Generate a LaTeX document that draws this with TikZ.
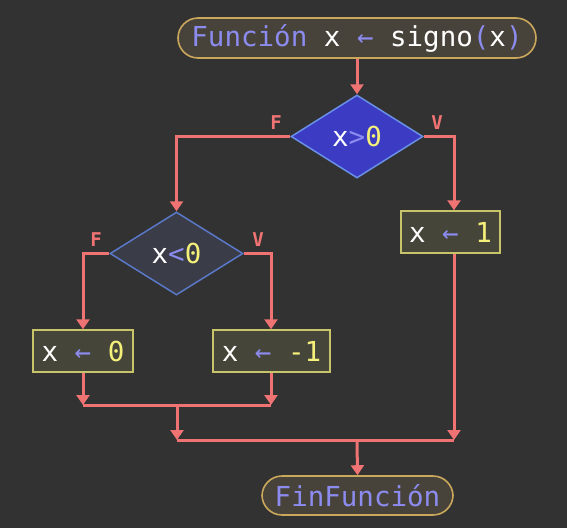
\documentclass[tikz,border=0pt]{standalone}
\usepackage{fontspec}
\setmonofont{DejaVu Sans Mono}
\usetikzlibrary{arrows.meta,shapes.geometric}
\definecolor{bg}{HTML}{323232}
\definecolor{pillfill}{HTML}{48433A}
\definecolor{pillline}{HTML}{C9A85C}
\definecolor{boxfill}{HTML}{46453A}
\definecolor{boxline}{HTML}{C8C46A}
\definecolor{dAfill}{HTML}{3B3BC4}
\definecolor{dAline}{HTML}{6A8FE6}
\definecolor{dBfill}{HTML}{3A3C48}
\definecolor{dBline}{HTML}{5A78C8}
\definecolor{lav}{HTML}{8C8CF0}
\definecolor{yel}{HTML}{F4F07A}
\definecolor{flow}{HTML}{F07373}
\newcommand{\Lv}[1]{\textcolor{lav}{#1}}
\newcommand{\Yl}[1]{\textcolor{yel}{#1}}
\tikzset{
  every node/.style={font=\ttfamily\fontsize{27.5}{27.5}\selectfont, text=white},
  pill/.style={draw=pillline, fill=pillfill, line width=1.6pt, rounded corners=20pt, inner sep=0pt, minimum height=40pt},
  abox/.style={draw=boxline, fill=boxfill, line width=1.5pt, inner sep=0pt, minimum height=42pt},
  decA/.style={diamond, draw=dAline, fill=dAfill, line width=1.5pt, inner sep=0pt, minimum width=132pt, minimum height=83pt},
  decB/.style={diamond, draw=dBline, fill=dBfill, line width=1.5pt, inner sep=0pt, minimum width=133pt, minimum height=83pt},
  flowline/.style={draw=flow, line width=3pt},
  flowarrow/.style={flowline, -{Triangle[length=10pt,width=13pt]}},
  lbl/.style={font=\ttfamily\bfseries\fontsize{19}{19}\selectfont, text=flow},
}
\begin{document}
\begin{tikzpicture}[x=1pt,y=-1pt]
\fill[bg] (0,0) rectangle (567,528);
\useasboundingbox (0,0) rectangle (567,528);

\node[pill, minimum width=358pt] (start) at (357,38) {\Lv{Función} x \Lv{←} signo\Lv{(}x\Lv{)}};
\node[decA] (d1) at (357,136.5) {x\Lv{>}\Yl{0}};
\node[decB] (d2) at (176.5,253.5) {x\Lv{<}\Yl{0}};
\node[abox, minimum width=99pt] (b1) at (450.5,232) {x \Lv{←} \Yl{1}};
\node[abox, minimum width=100pt] (b0) at (83,351) {x \Lv{←} \Yl{0}};
\node[abox, minimum width=117pt] (bm) at (271.5,351) {x \Lv{←} \Yl{-1}};
\node[pill, minimum width=191pt, minimum height=39pt] (end) at (357.5,495.5) {\Lv{FinFunción}};

\node[lbl] (lf1) at (276,123) {F};
\node[lbl] (lv1) at (437,123) {V};
\node[lbl] (lf2) at (96,240) {F};
\node[lbl] (lv2) at (258,240) {V};

\coordinate (m0) at (83,405);
\coordinate (mm) at (271,405);
\coordinate (mc) at (177,405);
\coordinate (n0) at (177,440);
\coordinate (n1) at (454,440);
\coordinate (nc) at (357,440);

\draw[flowarrow] (start.south) -- (d1.north);
\draw[flowarrow] (d1.west) -| (d2.north);
\draw[flowarrow] (d1.east) -| (b1.north -| n1);
\draw[flowarrow] (d2.west) -| (b0.north);
\draw[flowarrow] (d2.east) -| (bm.north -| mm);
\draw[flowarrow] (b0.south) -- (m0);
\draw[flowarrow] (bm.south -| mm) -- (mm);
\draw[flowline] (m0) -- (mm);
\draw[flowarrow] (mc) -- (n0);
\draw[flowarrow] (b1.south -| n1) -- (n1);
\draw[flowline] (n0) -- (n1);
\draw[flowarrow] (nc) -- (end.north);
\end{tikzpicture}
\end{document}
